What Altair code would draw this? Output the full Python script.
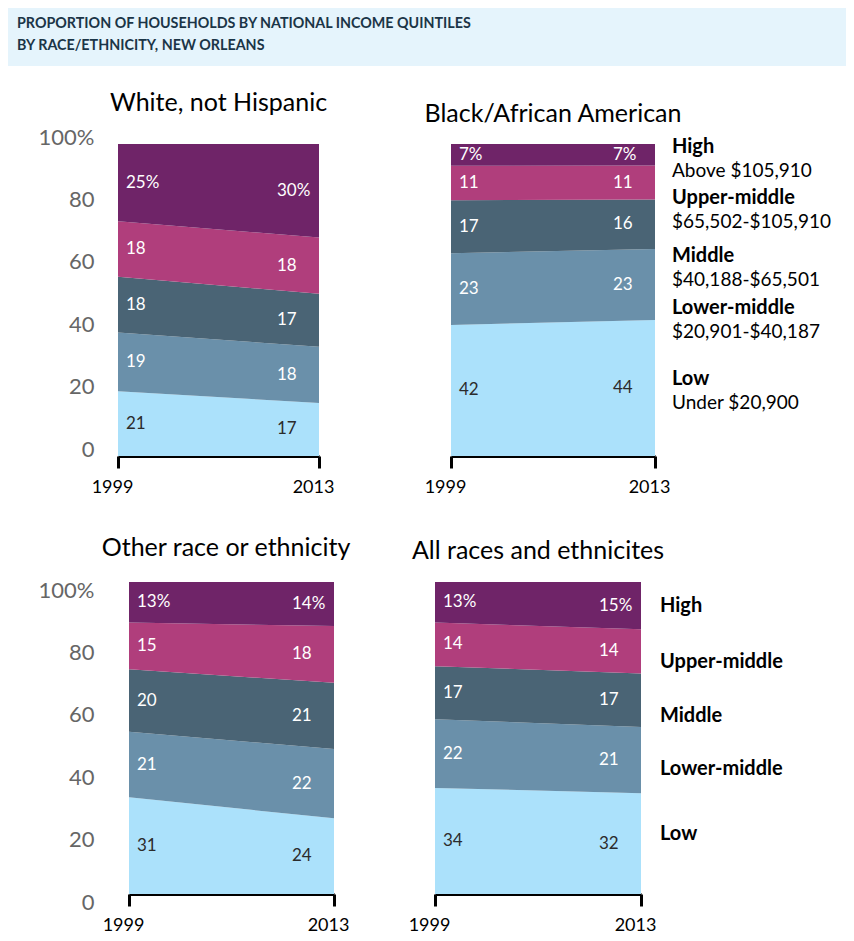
import altair as alt
import pandas as pd

# ---------------- data ----------------
QUINTILES = ["Low", "Lower-middle", "Middle", "Upper-middle", "High"]
YEARS = [1999, 2013]
GROUPS = ["White, not Hispanic", "Black/African American",
          "Other race or ethnicity", "All races and ethnicites"]
WHITE_1999 = [21, 19, 18, 18, 25]
WHITE_2013 = [17, 18, 17, 18, 30]
BLACK_1999 = [42, 23, 17, 11, 7]
BLACK_2013 = [44, 23, 16, 11, 7]
OTHER_1999 = [31, 21, 20, 15, 13]
OTHER_2013 = [24, 22, 21, 18, 14]
ALL_1999 = [34, 22, 17, 14, 13]
ALL_2013 = [32, 21, 17, 14, 15]
LEGEND_NAMES = ["High", "Upper-middle", "Middle", "Lower-middle", "Low"]
INCOME_RANGES = ["Above $105,910", "$65,502-$105,910", "$40,188-$65,501",
                 "$20,901-$40,187", "Under $20,900"]
TITLE_LINES = ["PROPORTION OF HOUSEHOLDS BY NATIONAL INCOME QUINTILES",
               "BY RACE/ETHNICITY, NEW ORLEANS"]
Y_TICKS = [0, 0.2, 0.4, 0.6, 0.8, 1.0]

SERIES = {
    GROUPS[0]: (WHITE_1999, WHITE_2013),
    GROUPS[1]: (BLACK_1999, BLACK_2013),
    GROUPS[2]: (OTHER_1999, OTHER_2013),
    GROUPS[3]: (ALL_1999, ALL_2013),
}
rows = []
for g, (v99, v13) in SERIES.items():
    for yr, vals in zip(YEARS, (v99, v13)):
        for r, (q, v) in enumerate(zip(QUINTILES, vals)):
            rows.append({"group": g, "year": yr, "quintile": q, "rank": r, "pct": v})
df = pd.DataFrame(rows)

# ---------------- style / layout ----------------
COLORS = ["#abe1fb", "#6a90aa", "#4a6475", "#b03e7c", "#6f2468"]
FONT = "Lato"
H = 312
LEGEND_POS_TOP = [0.99, 0.827, 0.641, 0.474, 0.247]
LEGEND_POS_BOTTOM = [0.923, 0.743, 0.572, 0.402, 0.193]
ORIGIN = 110          # left offset of the first plot column from the page band
PAGE_W = 838

one = pd.DataFrame({"k": [0]})


def panel(group, width, shift=0, show_y=True, legend_pos=None, with_ranges=False,
          title_offset=10, legend_gap=17, y_label_offset=0):
    base = (
        alt.Chart(df)
        .transform_filter(alt.datum.group == group)
        .transform_stack(stack="pct", groupby=["year"], as_=["lo", "hi"],
                         sort=[alt.SortField("rank", order="ascending")],
                         offset="normalize")
        .transform_calculate(
            mid="(datum.lo + datum.hi) / 2",
            label="datum.quintile == 'High' ? datum.pct + '%' : '' + datum.pct",
        )
    )
    total_w = width + shift
    x_axis = alt.Axis(values=YEARS, format="d", title=None, grid=False,
                      domainColor="black", domainWidth=3, tickColor="black",
                      tickWidth=3, tickSize=12, labelFontSize=18, labelFont=FONT,
                      labelColor="black", labelPadding=10, labelFlush=False,
                      labelOffset=-6)
    if show_y:
        y_axis = alt.Axis(values=Y_TICKS, title=None, grid=False, domain=False,
                          ticks=False, labelFontSize=22, labelFont=FONT,
                          labelColor="#666666", labelPadding=24,
                          labelOffset=y_label_offset,
                          labelExpr="datum.value == 1 ? '100%' : format(datum.value * 100, 'd')")
    else:
        y_axis = None
    x_scale = alt.Scale(domain=YEARS, nice=False, zero=False, range=[shift, total_w])
    x = alt.X("year:Q", scale=x_scale, axis=x_axis)
    area = base.mark_area().encode(
        x=x,
        y=alt.Y("lo:Q", scale=alt.Scale(domain=[0, 1], nice=False), axis=y_axis),
        y2="hi:Q",
        color=alt.Color("quintile:N", scale=alt.Scale(domain=QUINTILES, range=COLORS), legend=None),
    )
    txt_color = alt.condition(alt.datum.quintile == "Low", alt.value("#2b2b2b"), alt.value("white"))
    t99 = base.transform_filter(alt.datum.year == 1999).mark_text(
        align="left", baseline="middle", dx=8, fontSize=17, font=FONT
    ).encode(x="year:Q", y="mid:Q", text="label:N", color=txt_color)
    t13 = base.transform_filter(alt.datum.year == 2013).mark_text(
        align="left", baseline="middle", dx=-42, fontSize=17, font=FONT
    ).encode(x="year:Q", y="mid:Q", text="label:N", color=txt_color)
    layers = [area, t99, t13]
    if legend_pos is not None:
        ldf = pd.DataFrame({"name": LEGEND_NAMES, "range": INCOME_RANGES, "pos": legend_pos})
        names = alt.Chart(ldf).mark_text(
            align="left", baseline="middle", font=FONT, fontWeight="bold",
            fontSize=20, color="black"
        ).encode(x=alt.value(total_w + legend_gap), y="pos:Q", text="name:N")
        layers.append(names)
        if with_ranges:
            rng = alt.Chart(ldf).mark_text(
                align="left", baseline="middle", font=FONT, fontSize=19,
                color="black", dy=24
            ).encode(x=alt.value(total_w + legend_gap), y="pos:Q", text="range:N")
            layers.append(rng)
    return alt.layer(*layers).properties(
        width=total_w, height=H,
        title=alt.TitleParams(group, font=FONT, fontSize=25, fontWeight="normal",
                              color="black", anchor="middle", offset=title_offset),
    )


p1 = panel(GROUPS[0], 201, y_label_offset=-7)
p2 = panel(GROUPS[1], 204, show_y=False, legend_pos=LEGEND_POS_TOP, with_ranges=True)
p3 = panel(GROUPS[2], 205, shift=11, title_offset=18, y_label_offset=8)
p4 = panel(GROUPS[3], 206, show_y=False, legend_pos=LEGEND_POS_BOTTOM,
           title_offset=18, legend_gap=19)

row1 = alt.hconcat(p1, p2, spacing=90)
row2 = alt.hconcat(p3, p4, spacing=57)

band = alt.Chart(one).mark_rect(color="#e5f4fc").encode(
    x=alt.value(-ORIGIN), x2=alt.value(PAGE_W - ORIGIN), y=alt.value(0), y2=alt.value(58))
head_text = alt.Chart(one).mark_text(
    align="left", baseline="top", font=FONT, fontWeight="bold", fontSize=14.3,
    color="#1b3547", lineHeight=22
).encode(x=alt.value(9 - ORIGIN), y=alt.value(9), text=alt.value(TITLE_LINES))
header = alt.layer(band, head_text).properties(width=PAGE_W - ORIGIN, height=58)

chart = (
    alt.vconcat(header, alt.vconcat(row1, row2, spacing=40), spacing=25)
    .properties(padding=0)
    .configure_view(stroke=None)
)

chart.save("out.html", embed_options={"renderer": "svg", "actions": False})
